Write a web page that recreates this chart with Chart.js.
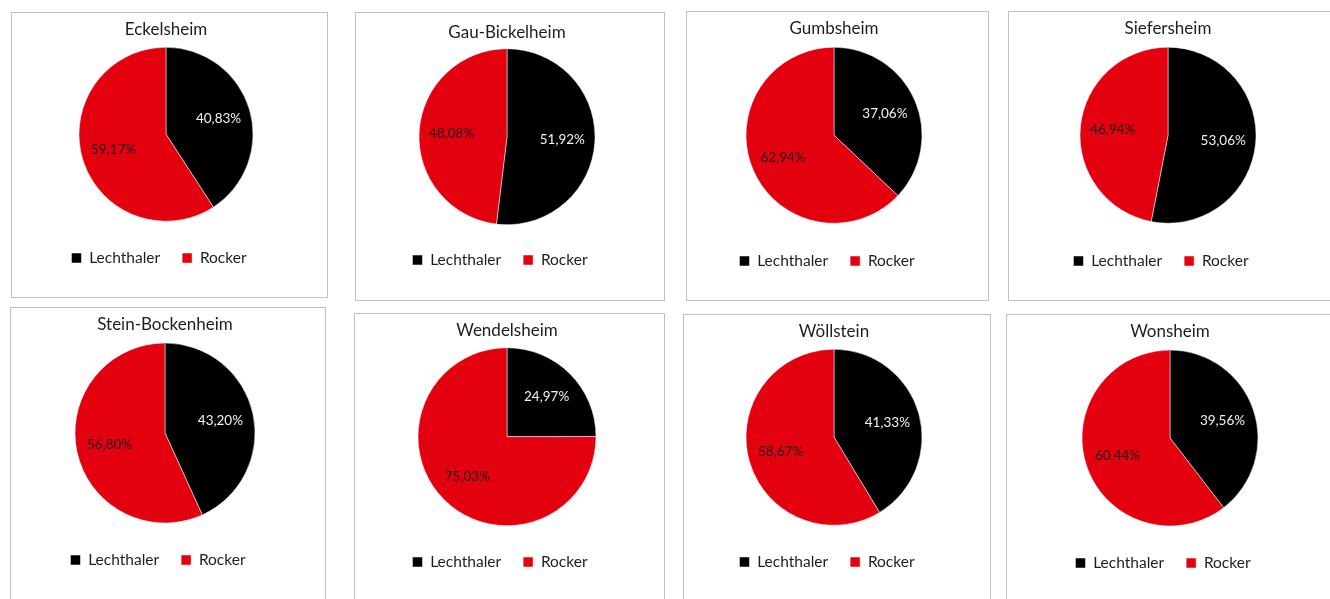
<!DOCTYPE html>
<html>
<head>
<meta charset="utf-8">
<script src="https://cdn.jsdelivr.net/npm/chart.js@4/dist/chart.umd.min.js"></script>
<style>
  html, body { margin: 0; padding: 0; background: #fff; overflow: hidden; width: 1330px; height: 599px; }
  .box { position: absolute; border: 1px solid #bfbfbf; box-sizing: border-box; }
  canvas { position: absolute; }
</style>
</head>
<body>
<script>
// data
const towns = ['Eckelsheim', 'Gau-Bickelheim', 'Gumbsheim', 'Siefersheim',
  'Stein-Bockenheim', 'Wendelsheim', 'Wöllstein', 'Wonsheim'];
const candidates = ['Lechthaler', 'Rocker'];
const lechthaler = [40.83, 51.92, 37.06, 53.06, 43.20, 24.97, 41.33, 39.56];
const rocker = [59.17, 48.08, 62.94, 46.94, 56.80, 75.03, 58.67, 60.44];

// layout of each chart box (page pixels)
const boxes = [
  { x: 11, y: 12, w: 317, h: 286, cx: 166, cy: 134, r: 87, ty: 30, ly: 258 },
  { x: 355, y: 12, w: 310, h: 289, cx: 507, cy: 135, r: 88, ty: 33, ly: 260 },
  { x: 686, y: 11, w: 303, h: 290, cx: 834, cy: 135, r: 88, ty: 29, ly: 261 },
  { x: 1008, y: 11, w: 340, h: 290, cx: 1168, cy: 135, r: 88, ty: 29, ly: 261 },
  { x: 10, y: 307, w: 316, h: 300, cx: 165, cy: 433, r: 90, ty: 325, ly: 560 },
  { x: 354, y: 313, w: 311, h: 300, cx: 507, cy: 436, r: 89, ty: 331, ly: 562 },
  { x: 683, y: 314, w: 308, h: 300, cx: 834, cy: 437, r: 88, ty: 332, ly: 562 },
  { x: 1006, y: 314, w: 340, h: 300, cx: 1170, cy: 438, r: 88, ty: 332, ly: 563 }
];

const colors = ['#000000', '#e3000f'];
const labelColors = ['#f2f2f2', '#1e1e1e'];
const FONT = 'Lato, "Open Sans", sans-serif';
const titleSize = 17, legendSize = 15.5, legendPad = 22, labelSize = 13.5;

// percentage labels inside the slices
const pctLabels = {
  id: 'pctLabels',
  afterDatasetsDraw(chart) {
    const ctx = chart.ctx;
    const meta = chart.getDatasetMeta(0);
    const values = chart.data.datasets[0].data;
    meta.data.forEach((arc, i) => {
      const p = arc.getProps(['x', 'y', 'startAngle', 'endAngle', 'outerRadius'], true);
      const mid = (p.startAngle + p.endAngle) / 2;
      const d = p.outerRadius * 0.63;
      ctx.save();
      ctx.font = labelSize + 'px ' + FONT;
      ctx.fillStyle = labelColors[i];
      ctx.textAlign = 'center';
      ctx.textBaseline = 'middle';
      ctx.fillText(values[i].toFixed(2).replace('.', ',') + '%', p.x + Math.cos(mid) * d, p.y + Math.sin(mid) * d);
      ctx.restore();
    });
  }
};

// the legend sits a bit left of the pie in the original
const legendShift = {
  id: 'legendShift',
  afterLayout(chart) {
    chart.legend.left -= 7;
    chart.legend.right -= 7;
  }
};

towns.forEach((town, k) => {
  const b = boxes[k];
  const div = document.createElement('div');
  div.className = 'box';
  Object.assign(div.style, { left: b.x + 'px', top: b.y + 'px', width: b.w + 'px', height: b.h + 'px' });
  document.body.appendChild(div);

  const cv = document.createElement('canvas');
  cv.width = b.w; cv.height = b.h;
  Object.assign(cv.style, { left: b.x + 'px', top: b.y + 'px' });
  document.body.appendChild(cv);

  // vertical bookkeeping so title, pie and legend land where the original has them
  const ty = b.ty - b.y, cy = b.cy - b.y, ly = b.ly - b.y;
  const titleH = titleSize * 1.2;
  const padTop = ty - titleH / 2;
  const itemH = Math.max(legendSize, 10);
  const legendH = itemH + legendPad + 10;
  const layoutBottom = b.h - ly - (legendH - legendPad - itemH / 2);
  const areaBottom = b.h - layoutBottom - legendH;
  const areaTop = 2 * cy - areaBottom;
  const titleBottom = Math.max(areaTop - padTop - titleH, 0);
  const rightPad = Math.max(2 * (b.x + b.w / 2 - b.cx), 0);
  const leftPad = Math.max(-2 * (b.x + b.w / 2 - b.cx), 0);

  new Chart(cv, {
    type: 'pie',
    data: {
      labels: candidates,
      datasets: [{
        data: [lechthaler[k], rocker[k]],
        backgroundColor: colors,
        borderColor: '#ffffff',
        borderWidth: 0.5,
        radius: b.r
      }]
    },
    options: {
      responsive: false,
      animation: false,
      layout: { padding: { top: 0, bottom: layoutBottom, left: leftPad, right: rightPad } },
      plugins: {
        title: {
          display: true,
          text: town,
          color: '#1e1e1e',
          font: { family: FONT, size: titleSize, weight: 'normal' },
          padding: { top: padTop, bottom: titleBottom }
        },
        legend: {
          position: 'bottom',
          labels: {
            boxWidth: 10,
            boxHeight: 10,
            padding: legendPad,
            color: '#1e1e1e',
            font: { family: FONT, size: legendSize }
          }
        },
        tooltip: { enabled: false }
      }
    },
    plugins: [pctLabels, legendShift]
  });
});
</script>
</body>
</html>
